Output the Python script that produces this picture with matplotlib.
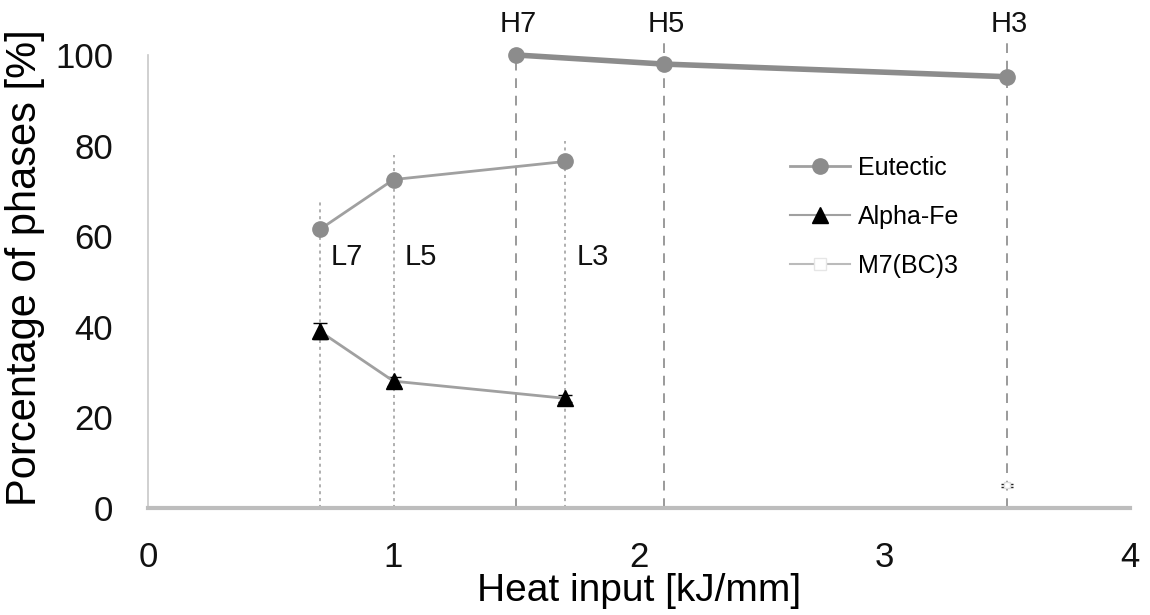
import matplotlib
matplotlib.use("Agg")
import matplotlib.pyplot as plt
from matplotlib.lines import Line2D

# ---- data ----
eut_low_x = [0.7, 1.0, 1.7]
eut_low_y = [61.5, 72.5, 76.5]
eut_high_x = [1.5, 2.1, 3.5]
eut_high_y = [100.0, 98.0, 95.2]
alpha_x = [0.7, 1.0, 1.7]
alpha_y = [39.0, 28.0, 24.2]
alpha_err = [1.8, 1.0, 0.8]
m7_x = [3.5]
m7_y = [5.0]
m7_err = [0.3]

low_labels = ["L7", "L5", "L3"]
high_labels = ["H7", "H5", "H3"]
low_line_tops = [68, 78, 81]
high_line_tops = [100, 104, 104]

xticks = [0, 1, 2, 3, 4]
yticks = [0, 20, 40, 60, 80, 100]

plt.rcParams['font.family'] = ['Liberation Sans', 'DejaVu Sans']

fig = plt.figure(figsize=(11.5, 6.15), dpi=100)
ax = fig.add_axes([0.1287, 0.174, 0.8539, 0.7366])
ax.set_xlim(0, 4)
ax.set_ylim(0, 100)

# vertical guide lines
for x, top in zip(eut_low_x, low_line_tops):
    ax.plot([x, x], [0, top], color='#9a9a9a', lw=1.1, ls=(0, (2, 2.5)),
            zorder=1, clip_on=False)
for x, top in zip(eut_high_x, high_line_tops):
    ax.plot([x, x], [0, top], color='#9a9a9a', lw=1.4, ls=(0, (5, 4)),
            zorder=1, clip_on=False)

# eutectic
ax.plot(eut_low_x, eut_low_y, color='#a0a0a0', lw=2, marker='o', ms=11,
        mfc='#8c8c8c', mec='#8c8c8c', zorder=3, clip_on=False)
ax.plot(eut_high_x, eut_high_y, color='#8c8c8c', lw=4, marker='o', ms=11,
        mfc='#8c8c8c', mec='#8c8c8c', zorder=3, clip_on=False)

# alpha-Fe
ax.errorbar(alpha_x, alpha_y, yerr=alpha_err, color='#a0a0a0', lw=2,
            marker='^', ms=11, mfc='black', mec='black', ecolor='black',
            elinewidth=1.5, capsize=5, zorder=4)

# M7(BC)3
ax.errorbar(m7_x, m7_y, yerr=m7_err, color='#bbbbbb', lw=1.5, marker='s',
            ms=5, mfc='white', mec='#dddddd', ecolor='#222222',
            elinewidth=2, capsize=4, zorder=4)

# labels
for x, lab in zip(eut_low_x, low_labels):
    ax.text(x + 0.045, 55.5, lab, fontsize=21, ha='left', va='center',
            color='#111111')
for x, lab in zip(eut_high_x, high_labels):
    ax.text(x + 0.01, 106.8, lab, fontsize=21, ha='center', va='center',
            color='#111111', clip_on=False)

# axes styling
for s in ['top', 'right']:
    ax.spines[s].set_visible(False)
ax.spines['left'].set_color('#c8c8c8')
ax.spines['left'].set_linewidth(1.2)
ax.spines['bottom'].set_color('#bdbdbd')
ax.spines['bottom'].set_linewidth(3)
ax.set_xticks(xticks)
ax.set_yticks(yticks)
ax.tick_params(length=0, labelsize=25, colors='#111111')
ax.tick_params(axis='x', pad=24)
ax.tick_params(axis='y', pad=25)
ax.set_xlabel('Heat input [kJ/mm]', fontsize=28, labelpad=-1)
ax.set_ylabel('Porcentage of phases [%]', fontsize=30)
ax.yaxis.set_label_coords(-0.105, 0.53)

handles = [
    Line2D([], [], color='#a0a0a0', lw=2, marker='o', ms=11,
           mfc='#8c8c8c', mec='#8c8c8c'),
    Line2D([], [], color='#a0a0a0', lw=1.5, marker='^', ms=11,
           mfc='black', mec='black'),
    Line2D([], [], color='#bbbbbb', lw=1.5, marker='s', ms=8,
           mfc='white', mec='#e6e6e6'),
]
fig.legend(handles, ['Eutectic', 'Alpha-Fe', 'M7(BC)3'], loc='upper left',
           bbox_to_anchor=(0.667, 0.783), frameon=False, fontsize=18,
           handlelength=2.4, labelspacing=1.0, handletextpad=0.35)

fig.savefig('out.png', dpi=100)
